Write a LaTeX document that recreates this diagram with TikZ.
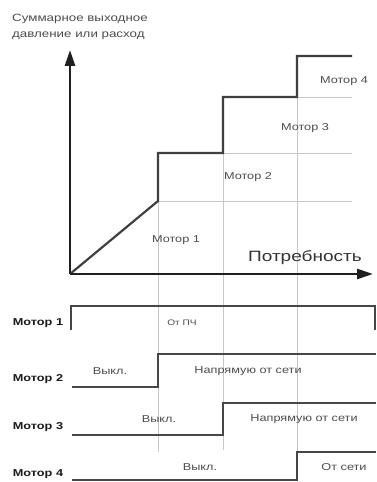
\documentclass[tikz,border=0pt]{standalone}
\usepackage{fontspec}
\setmainfont{Liberation Sans}
\usepackage{graphicx}
\usetikzlibrary{arrows.meta}
\newcommand{\wtxt}[1]{\scalebox{1.27}[1]{#1}}
\begin{document}
\begin{tikzpicture}[x=1pt,y=1pt,
  axis/.style={line width=2.6pt, draw=black!88, -{Triangle[length=16pt,width=10pt]}},
  curve/.style={line width=2.2pt, draw=black!75, line join=miter},
  gridln/.style={line width=0.8pt, draw=black!22},
  sig/.style={line width=2pt, draw=black!72},
  lbl/.style={text=black!70, font=\fontsize{10}{12}\selectfont, inner sep=0pt},
  small/.style={text=black!70, font=\fontsize{8}{10}\selectfont, inner sep=0pt},
  mlbl/.style={text=black!90, font=\bfseries\fontsize{10}{12}\selectfont, inner sep=0pt},
]
\useasboundingbox (0,0) rectangle (376,482);
% coordinates
\coordinate (O) at (70,208);
\coordinate (ytip) at (70,432);
\coordinate (xtip) at (373,208);
\coordinate (A) at (158,281);
\coordinate (B1) at (158,329);
\coordinate (B2) at (223,329);
\coordinate (C1) at (223,385);
\coordinate (C2) at (297,385);
\coordinate (D1) at (297,426);
\coordinate (D2) at (352,426);
\coordinate (Ae) at (352,281);
\coordinate (Be) at (352,329);
\coordinate (Ce) at (352,385);
\coordinate (Ab) at (158,30);
\coordinate (Bb) at (223,32);
\coordinate (Cb) at (297,30);
% grid lines
\draw[gridln] (A) -- (Ae);
\draw[gridln] (B2) -- (Be);
\draw[gridln] (C2) -- (Ce);
\draw[gridln] (A) -- (Ab);
\draw[gridln] (B2) -- (Bb);
\draw[gridln] (C2) -- (Cb);
% characteristic
\draw[curve] (O) -- (A) -- (B1) -- (B2) -- (C1) -- (C2) -- (D1) -- (D2);
% axes
\draw[axis] (O) -- (ytip);
\draw[axis] (O) -- (xtip);
% labels in chart
\node[lbl] (t1) at (176,242) {\wtxt{Мотор 1}};
\node[lbl] (t2) at (248,305) {\wtxt{Мотор 2}};
\node[lbl] (t3) at (305,354) {\wtxt{Мотор 3}};
\node[lbl] (t4) at (344,401) {\wtxt{Мотор 4}};
\node[text=black!80, font=\fontsize{15}{17}\selectfont, inner sep=0pt] (dem) at (305,224) {\wtxt{Потребность}};
\node[text=black!70, font=\fontsize{10.5}{12}\selectfont, inner sep=0pt, anchor=base west] (tt1) at (12,460) {\wtxt{Суммарное выходное}};
\node[text=black!70, font=\fontsize{10.5}{12}\selectfont, inner sep=0pt, anchor=base west] (tt2) at (12,444) {\wtxt{давление или расход}};
% timing signals
\coordinate (m1a) at (71,152); \coordinate (m1b) at (71,176);
\coordinate (m1c) at (375,176); \coordinate (m1d) at (375,152);
\draw[sig] (m1a) -- (m1b) -- (m1c) -- (m1d);
\coordinate (m2a) at (72,95); \coordinate (m2b) at (158,95);
\coordinate (m2c) at (158,128); \coordinate (m2d) at (376,128);
\draw[sig] (m2a) -- (m2b) -- (m2c) -- (m2d);
\coordinate (m3a) at (72,47); \coordinate (m3b) at (223,47);
\coordinate (m3c) at (223,79); \coordinate (m3d) at (376,79);
\draw[sig] (m3a) -- (m3b) -- (m3c) -- (m3d);
\coordinate (m4a) at (72,1.5); \coordinate (m4b) at (297,1.5);
\coordinate (m4c) at (297,30); \coordinate (m4d) at (376,30);
\draw[sig] (m4a) -- (m4b) -- (m4c) -- (m4d);
% signal labels
\node[mlbl] (M1) at (38,159) {\wtxt{Мотор 1}};
\node[mlbl] (M2) at (38,103) {\wtxt{Мотор 2}};
\node[mlbl] (M3) at (38,55) {\wtxt{Мотор 3}};
\node[mlbl] (M4) at (38,8) {\wtxt{Мотор 4}};
\node[small] (s1) at (182,159) {\wtxt{От ПЧ}};
\node[lbl] (s2a) at (110,111) {\wtxt{Выкл.}};
\node[lbl] (s2b) at (248,111) {\wtxt{Напрямую от сети}};
\node[lbl] (s3a) at (159,63) {\wtxt{Выкл.}};
\node[lbl] (s3b) at (304,63) {\wtxt{Напрямую от сети}};
\node[lbl] (s4a) at (200,15) {\wtxt{Выкл.}};
\node[lbl] (s4b) at (344,15) {\wtxt{От сети}};
\end{tikzpicture}
\end{document}
